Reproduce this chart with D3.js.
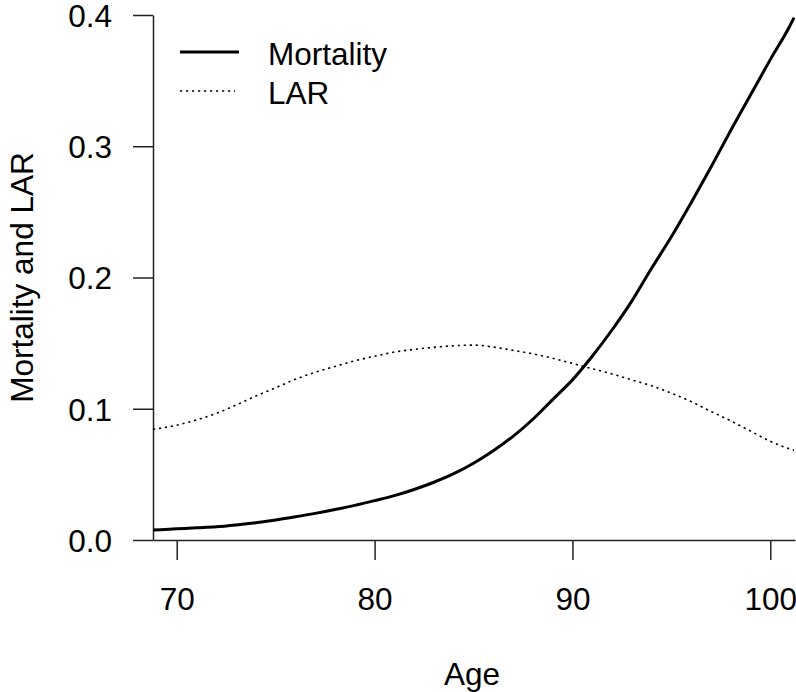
<!DOCTYPE html>
<html>
<head>
<meta charset="utf-8">
<script src="https://cdn.jsdelivr.net/npm/d3@7"></script>
<style>
  html, body { margin: 0; padding: 0; background: #fff; }
  svg { display: block; }
  text { font-family: "Liberation Sans", Arial, sans-serif; fill: #000; }
</style>
</head>
<body>
<svg id="chart" width="796" height="692"></svg>
<script>
// Age (years)
const ages = [68.8, 70, 71, 72, 73, 74, 75, 76, 77, 78, 79, 80, 81, 82, 83, 84, 85,
              86, 87, 88, 89, 90, 91, 92, 93, 94, 95, 96, 97, 98, 99, 100, 101, 101.2];
// Annual mortality probability
const mortality = [0.0076, 0.0085, 0.0093, 0.0101, 0.0115, 0.0132, 0.0153, 0.0177, 0.0203, 0.0232,
                   0.0264, 0.0300, 0.0338, 0.0385, 0.0440, 0.0505, 0.0585, 0.068, 0.079, 0.092,
                   0.107, 0.122, 0.140, 0.160, 0.182, 0.207, 0.231, 0.257, 0.284, 0.312,
                   0.339, 0.366, 0.392, 0.398];
// Lifetime attributable risk
const lar = [0.0843, 0.0875, 0.0915, 0.0965, 0.1028, 0.1097, 0.1160, 0.1225, 0.1278, 0.1322,
             0.1365, 0.1400, 0.1432, 0.1452, 0.1468, 0.1480, 0.1485, 0.1470, 0.1445, 0.1418,
             0.1385, 0.1345, 0.1305, 0.1265, 0.1220, 0.1175, 0.1118, 0.1055, 0.0980, 0.0908,
             0.0830, 0.0752, 0.0693, 0.0683];
const xTicks = [70, 80, 90, 100];
const yTicks = [0.0, 0.1, 0.2, 0.3, 0.4];
const seriesNames = ["Mortality", "LAR"];
const xTitle = "Age";
const yTitle = "Mortality and LAR";

const svg = d3.select("#chart");
const x = d3.scaleLinear().domain([68.8, 101.25]).range([153, 795]);
const y = d3.scaleLinear().domain([0, 0.4]).range([540, 15]);

const fontPx = 31.5;
const dotted = "2.2,3.8";

// Axes
const xAxis = svg.append("g")
  .attr("transform", `translate(0,${y(0)})`)
  .call(d3.axisBottom(x).tickValues(xTicks).tickSizeInner(20).tickSizeOuter(0).tickPadding(0).tickFormat(d3.format("d")));
const yAxis = svg.append("g")
  .attr("transform", `translate(${x.range()[0]},0)`)
  .call(d3.axisLeft(y).tickValues(yTicks).tickSizeInner(20).tickSizeOuter(0).tickPadding(0).tickFormat(d3.format(".1f")));

[xAxis, yAxis].forEach(g => {
  g.selectAll("path.domain").attr("stroke", "#222").attr("stroke-width", 1.5);
  g.selectAll(".tick line").attr("stroke", "#222").attr("stroke-width", 1.5);
  g.selectAll(".tick text")
    .style("font-family", '"Liberation Sans", Arial, sans-serif')
    .style("font-size", fontPx + "px")
    .attr("fill", "#000");
});
xAxis.selectAll(".tick text").attr("y", 70).attr("dy", 0);
yAxis.selectAll(".tick text").attr("x", -41).attr("dy", "0.36em");

// Axis titles
svg.append("text")
  .attr("x", (x.range()[0] + x.range()[1]) / 2 - 2)
  .attr("y", 685)
  .attr("text-anchor", "middle")
  .style("font-size", fontPx + "px")
  .text(xTitle);
svg.append("text")
  .attr("transform", `translate(33,${(y(0) + y(0.4)) / 2}) rotate(-90)`)
  .attr("text-anchor", "middle")
  .style("font-size", fontPx + "px")
  .text(yTitle);

// Curves
const line = (vals) => d3.line()
  .x((d, i) => x(ages[i]))
  .y(d => y(d))
  .curve(d3.curveMonotoneX)(vals);

svg.append("path")
  .attr("d", line(lar))
  .attr("fill", "none")
  .attr("stroke", "#000")
  .attr("stroke-width", 1.6)
  .attr("stroke-dasharray", dotted);

svg.append("path")
  .attr("d", line(mortality))
  .attr("fill", "none")
  .attr("stroke", "#000")
  .attr("stroke-width", 3)
  .attr("stroke-linejoin", "round");

// Legend
const legend = svg.append("g");
const legendRows = [
  { name: seriesNames[0], y: 52, width: 3, dash: null, x2: 239 },
  { name: seriesNames[1], y: 91, width: 1.6, dash: dotted, x2: 235 }
];
legendRows.forEach(r => {
  legend.append("line")
    .attr("x1", 180).attr("x2", r.x2)
    .attr("y1", r.y).attr("y2", r.y)
    .attr("stroke", "#000")
    .attr("stroke-width", r.width)
    .attr("stroke-dasharray", r.dash);
  legend.append("text")
    .attr("x", 268)
    .attr("y", r.y + 13)
    .style("font-size", fontPx + "px")
    .text(r.name);
});
</script>
</body>
</html>
